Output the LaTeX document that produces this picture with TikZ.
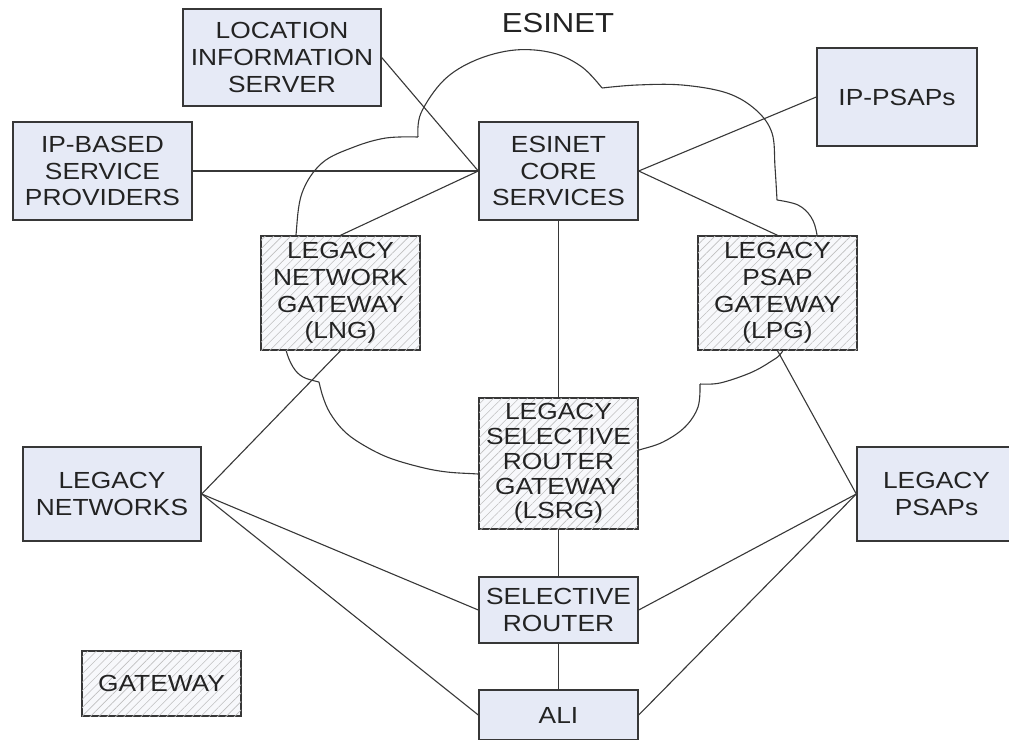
\documentclass[tikz,border=0pt]{standalone}
\usepackage{fontspec}
\setmainfont{Liberation Sans}[FakeStretch=1.13]
\usetikzlibrary{patterns.meta}
\definecolor{boxfill}{RGB}{230,234,246}
\definecolor{edgecol}{RGB}{55,55,55}
\definecolor{hatchbg}{RGB}{247,248,251}
\definecolor{txt}{RGB}{35,35,35}
\begin{document}
\begin{tikzpicture}[x=1pt,y=-1pt,
  box/.style={draw=edgecol, line width=1.4pt, fill=boxfill, inner sep=0pt,
    align=center, font=\fontsize{23.3}{26.7}\selectfont, text=txt},
  gw/.style={box, fill=hatchbg,
    postaction={pattern={Lines[angle=45,distance=6pt,line width=0.6pt]}, pattern color=black!25}},
  link/.style={draw=edgecol, line width=1.1pt},
  cloud/.style={draw=edgecol, line width=1.1pt, line join=round}]
\useasboundingbox (0,0) rectangle (1009,739);
% cloud
\draw[cloud] plot[smooth,tension=0.6] coordinates {(295,265) (296,235) (302,193) (322,163) (354,147) (386,138) (418,137)};
\draw[cloud] plot[smooth,tension=0.6] coordinates {(418,137) (421,113) (444,80) (476,60) (515,50) (553,53) (582,67) (602,88)};
\draw[cloud] plot[smooth,tension=0.6] coordinates {(602,88) (637,85) (682,85) (727,93) (756,110) (772,133) (775,167) (777,200)};
\draw[cloud] plot[smooth,tension=0.6] coordinates {(777,200) (798,205) (811,217) (817,235) (819,265)};
\draw[cloud] plot[smooth,tension=0.6] coordinates {(790,330) (782,352) (770,362) (750,373) (720,383) (700,384)};
\draw[cloud] plot[smooth,tension=0.6] coordinates {(700,384) (698,407) (685,427) (663,442) (639,450) (610,458)};
\draw[cloud] plot[smooth,tension=0.6] coordinates {(284,330) (286,350) (293,367) (303,377) (319,382)};
\draw[cloud] plot[smooth,tension=0.6] coordinates {(319,382) (323,397) (330,413) (343,430) (360,443) (387,457) (420,467) (447,472) (478,474) (505,476)};
% boxes
\node[box, minimum width=198, minimum height=97] (lis) at (282,57.5) {LOCATION\\INFORMATION\\SERVER};
\node[box, minimum width=160, minimum height=98] (ipsap) at (897,97) {IP-PSAPs};
\node[box, minimum width=179, minimum height=98] (ipbsp) at (102.5,171) {IP-BASED\\SERVICE\\PROVIDERS};
\node[box, minimum width=159, minimum height=98] (core) at (558.5,171) {ESINET\\CORE\\SERVICES};
\node[gw, minimum width=159, minimum height=114] (lng) at (340.5,293) {LEGACY\\NETWORK\\GATEWAY\\(LNG)};
\node[gw, minimum width=159, minimum height=114] (lpg) at (777.5,293) {LEGACY\\PSAP\\GATEWAY\\(LPG)};
\node[gw, minimum width=159, minimum height=131, font=\fontsize{23.3}{24.8}\selectfont] (lsrg) at (558.5,463.5) {LEGACY\\SELECTIVE\\ROUTER\\GATEWAY\\(LSRG)};
\node[box, minimum width=178, minimum height=94] (ln) at (112,494) {LEGACY\\NETWORKS};
\node[box, minimum width=159, minimum height=94] (lpsap) at (936.5,494) {LEGACY\\PSAPs};
\node[box, minimum width=159, minimum height=66] (sr) at (558.5,610) {SELECTIVE\\ROUTER};
\node[box, minimum width=159, minimum height=50] (ali) at (558.5,715) {ALI};
\node[gw, minimum width=159, minimum height=65] (gwy) at (161.5,683.5) {GATEWAY};
\node[font=\fontsize{27.5}{30}\selectfont, text=txt, inner sep=0pt] (esinet) at (558,23) {ESINET};
% connectors
\draw[link] (lis.east) -- (core.west);
\draw[link] (ipbsp.east) -- (core.west);
\draw[link] (lng.north) -- (core.west);
\draw[link] (core.east) -- (ipsap.west);
\draw[link] (core.east) -- (lpg.north);
\draw[link] (core.south) -- (lsrg.north);
\draw[link] (lng.south) -- (ln.east);
\draw[link] (lpg.south) -- (lpsap.west);
\draw[link] (lsrg.south) -- (sr.north);
\draw[link] (sr.south) -- (ali.north);
\draw[link] (ln.east) -- (sr.west);
\draw[link] (ln.east) -- (ali.west);
\draw[link] (sr.east) -- (lpsap.west);
\draw[link] (ali.east) -- (lpsap.west);
\end{tikzpicture}
\end{document}
